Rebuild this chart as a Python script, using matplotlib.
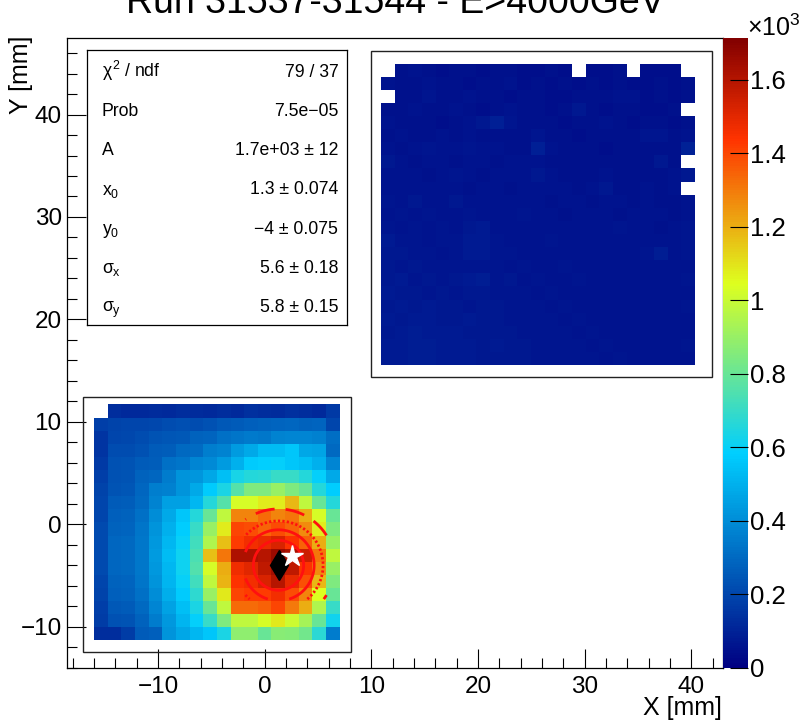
import numpy as np
import matplotlib
matplotlib.use("Agg")
import matplotlib.pyplot as plt
from matplotlib.colors import LinearSegmentedColormap, Normalize
from matplotlib.patches import Rectangle
from matplotlib.ticker import MultipleLocator, FuncFormatter

plt.rcParams['font.family'] = ['Liberation Sans', 'DejaVu Sans']
plt.rcParams['mathtext.fontset'] = 'custom'
plt.rcParams['mathtext.rm'] = 'Liberation Sans'
plt.rcParams['mathtext.it'] = 'Liberation Sans'
plt.rcParams['mathtext.bf'] = 'Liberation Sans:bold'
plt.rcParams['mathtext.sf'] = 'Liberation Sans'

# ---------------- data ----------------
title = "Run 31537-31544 - E>4000GeV"
x_label = "X [mm]"
y_label = "Y [mm]"
nan = np.nan

# small tower: 18 x 18 bins, rows listed top -> bottom
small_tower = [
    [nan, 130, 120, 115, 125, 120, 130, 125, 115, 130, 120, 140, 130, 125, 135, 130, 120, 165],
    [175, 190, 195, 200, 205, 215, 225, 220, 230, 250, 255, 270, 280, 285, 290, 280, 285, 200],
    [150, 200, 205, 215, 240, 245, 250, 280, 285, 320, 330, 345, 340, 370, 380, 375, 365, 310],
    [150, 215, 220, 230, 260, 265, 300, 305, 360, 370, 440, 480, 530, 535, 560, 470, 465, 300],
    [165, 230, 235, 255, 265, 320, 330, 380, 390, 440, 500, 575, 585, 590, 560, 540, 500, 380],
    [180, 230, 240, 280, 290, 350, 420, 425, 470, 540, 630, 660, 665, 700, 700, 660, 590, 480],
    [190, 240, 245, 290, 360, 365, 420, 480, 570, 640, 760, 850, 850, 900, 850, 800, 660, 580],
    [200, 260, 265, 300, 370, 450, 455, 520, 660, 760, 1030, 1030, 1080, 1080, 1180, 980, 800, 660],
    [200, 270, 275, 320, 400, 480, 560, 660, 800, 980, 1280, 1280, 1330, 1280, 1310, 1200, 1030, 800],
    [210, 280, 285, 330, 420, 500, 580, 700, 900, 1080, 1400, 1390, 1340, 1390, 1340, 1270, 1080, 850],
    [210, 290, 295, 340, 430, 520, 600, 720, 950, 1170, 1420, 1460, 1480, 1520, 1440, 1350, 1200, 900],
    [210, 290, 300, 340, 440, 530, 610, 740, 1170, 1310, 1620, 1620, 1600, 1660, 1620, 1550, 1310, 980],
    [210, 290, 295, 340, 430, 520, 610, 750, 1030, 1200, 1470, 1500, 1580, 1640, 1580, 1440, 1270, 900],
    [200, 280, 285, 330, 420, 510, 600, 720, 980, 1190, 1440, 1460, 1520, 1600, 1490, 1380, 1180, 850],
    [190, 270, 275, 320, 400, 490, 570, 680, 900, 1090, 1400, 1420, 1420, 1460, 1390, 1280, 1040, 800],
    [180, 250, 255, 300, 380, 460, 540, 640, 800, 980, 1330, 1330, 1350, 1400, 1300, 1200, 950, 700],
    [170, 230, 235, 280, 350, 430, 510, 590, 700, 850, 980, 980, 1030, 1090, 1010, 930, 800, 620],
    [130, 130, 170, 260, 270, 420, 470, 520, 560, 640, 880, 880, 800, 870, 860, 820, 670, 350],
]

# large tower: 23 x 23 bins, rows listed top -> bottom
large_tower = [
    [nan, 50, 55, 48, 45, 50, 48, 45, 52, 48, 46, 44, 48, 45, nan, 46, 44, 48, nan, 45, 42, 46, nan],
    [55, 52, 50, 55, 48, 52, 46, 50, 48, 56, 46, 48, 44, 50, 44, 48, 46, 50, 44, 46, 48, 44, 50],
    [nan, 48, 50, 62, 52, 48, 58, 50, 48, 46, 52, 48, 46, 44, 48, 50, 52, 58, 60, 46, 48, 44, 48],
    [52, 48, 55, 50, 52, 56, 48, 46, 50, 54, 48, 50, 46, 48, 68, 48, 46, 50, 48, 44, 46, 48, nan],
    [55, 50, 52, 48, 46, 50, 54, 68, 90, 62, 50, 52, 48, 46, 50, 52, 56, 48, 46, 50, 48, 46, 52],
    [52, 55, 50, 52, 56, 50, 55, 52, 50, 48, 52, 66, 52, 50, 46, 48, 50, 52, 48, 62, 66, 50, 58],
    [60, 52, 56, 64, 54, 56, 62, 56, 58, 52, 50, 92, 56, 52, 48, 50, 46, 48, 52, 50, 52, 48, 98],
    [72, 56, 52, 58, 60, 52, 56, 58, 52, 56, 60, 56, 52, 50, 52, 48, 50, 52, 48, 50, 68, 52, nan],
    [58, 56, 60, 52, 56, 62, 58, 52, 56, 60, 56, 72, 58, 52, 50, 52, 58, 50, 52, 48, 50, 60, 68],
    [60, 58, 56, 60, 58, 60, 52, 56, 58, 52, 56, 58, 60, 56, 52, 56, 68, 50, 52, 56, 52, 58, nan],
    [62, 58, 70, 58, 56, 68, 60, 58, 56, 60, 58, 56, 52, 60, 56, 52, 56, 60, 52, 56, 50, 52, 58],
    [60, 64, 58, 62, 60, 58, 64, 60, 58, 56, 62, 58, 56, 52, 58, 60, 56, 52, 58, 54, 56, 52, 60],
    [66, 60, 62, 58, 64, 60, 70, 74, 60, 58, 56, 60, 58, 56, 54, 58, 56, 62, 54, 56, 52, 56, 62],
    [76, 62, 66, 60, 62, 64, 78, 80, 62, 60, 58, 56, 62, 58, 56, 54, 60, 56, 58, 60, 56, 58, 64],
    [68, 72, 64, 66, 60, 62, 74, 76, 64, 62, 60, 58, 60, 56, 58, 56, 58, 60, 56, 62, 84, 56, 62],
    [72, 66, 68, 64, 66, 62, 64, 66, 62, 60, 62, 60, 58, 62, 56, 58, 60, 56, 58, 56, 58, 56, 60],
    [70, 74, 66, 70, 64, 68, 80, 82, 66, 70, 60, 62, 60, 58, 62, 58, 56, 60, 58, 60, 56, 58, 62],
    [74, 68, 72, 66, 70, 66, 72, 70, 64, 62, 64, 60, 62, 60, 58, 60, 58, 56, 60, 58, 60, 56, 58],
    [70, 76, 70, 74, 68, 72, 66, 70, 68, 64, 62, 66, 60, 62, 60, 58, 60, 58, 56, 60, 58, 60, 62],
    [78, 72, 80, 76, 72, 70, 74, 68, 70, 66, 64, 62, 64, 60, 62, 60, 58, 60, 58, 56, 60, 58, 60],
    [72, 80, 84, 78, 76, 74, 72, 70, 68, 70, 66, 64, 62, 64, 60, 62, 60, 58, 60, 58, 56, 60, 58],
    [80, 76, 82, 86, 74, 78, 76, 72, 74, 70, 68, 66, 64, 62, 64, 60, 62, 60, 58, 60, 58, 56, 66],
    [74, 80, 86, 82, 78, 76, 74, 72, 70, 68, 70, 66, 64, 66, 62, 64, 60, 62, 60, 58, 60, 58, 60],
]

stat_names = [r"$\chi^{2}$ / ndf", "Prob", "A", r"x$_{0}$", r"y$_{0}$",
              r"$\sigma_{x}$", r"$\sigma_{y}$"]
stat_values = ["79 / 37", "7.5e\u221205", "1.7e+03 \u00b1 12", "1.3 \u00b1 0.074",
               "\u22124 \u00b1 0.075", "5.6 \u00b1 0.18", "5.8 \u00b1 0.15"]

fit_A, fit_x0, fit_y0, fit_sx, fit_sy = 1700.0, 1.3, -4.0, 5.6, 5.8
contour_levels = [1085, 1287, 1423, 1556]
fit_window_x = [-1.8, 5.8]
fit_window_y = [-7.3, 1.6]
star_x, star_y = [2.56], [-3.1]
cbar_ticks = [0, 200, 400, 600, 800, 1000, 1200, 1400, 1600]
z_max = 1714

# geometry (mm)
bin_mm = 1.28
small_origin = (-16.0, -11.34)
large_origin = (10.9, 15.54)
small_frame = (-17.05, -12.5, 25.1, 24.95)
large_frame = (10.0, 14.35, 31.9, 31.9)

# ---------------- colormap (ROOT "pretty" palette) ----------------
stops = [0.0, 0.34, 0.61, 0.84, 1.0]
cols = [(0.0, 0.0, 0.51), (0.0, 0.81, 1.0), (0.87, 1.0, 0.12), (1.0, 0.2, 0.0), (0.51, 0.0, 0.0)]
cmap = LinearSegmentedColormap.from_list("rootpal", list(zip(stops, cols)), N=256)
norm = Normalize(vmin=0, vmax=z_max)

TICK_FS = 17.5
W, H = 803, 722
fig = plt.figure(figsize=(W / 100, H / 100), dpi=100)
fig.patch.set_facecolor("white")

ax_l, ax_r, ax_t, ax_b = 67.3, 723.3, 37.7, 667.7
ax = fig.add_axes([ax_l / W, 1 - ax_b / H, (ax_r - ax_l) / W, (ax_b - ax_t) / H])

def draw_tower(vals, origin):
    arr = np.flipud(np.array(vals, dtype=float))
    ny, nx = arr.shape
    xe = origin[0] + bin_mm * np.arange(nx + 1)
    ye = origin[1] + bin_mm * np.arange(ny + 1)
    return ax.pcolormesh(xe, ye, np.ma.masked_invalid(arr), cmap=cmap, norm=norm,
                         shading="flat", zorder=1, edgecolors="none")

mesh = draw_tower(small_tower, small_origin)
draw_tower(large_tower, large_origin)

for fx, fy, fw, fh in (small_frame, large_frame):
    ax.add_patch(Rectangle((fx, fy), fw, fh, fill=False, ec="#222222", lw=1.0, zorder=2))

# fit function contours (restricted to fit window)
gx = np.linspace(fit_window_x[0], fit_window_x[1], 200)
gy = np.linspace(fit_window_y[0], fit_window_y[1], 200)
GX, GY = np.meshgrid(gx, gy)
GZ = fit_A * np.exp(-0.5 * (((GX - fit_x0) / fit_sx) ** 2 + ((GY - fit_y0) / fit_sy) ** 2))
ax.contour(GX, GY, GZ, levels=contour_levels, colors="#ff1010", linewidths=2.0,
           linestyles=[(0, (7, 4)), (0, (0.8, 0.8)), "solid", "solid"], zorder=3)

ax.plot([fit_x0], [fit_y0], marker="d", ms=15, color="black", mec="black", ls="none", zorder=4)
ax.plot(star_x, star_y, marker="*", ms=16, color="white", mec="white", ls="none", zorder=5)

ax.set_xlim(-18.5, 43)
ax.set_ylim(-14, 47.5)
ax.xaxis.set_major_locator(MultipleLocator(10))
ax.xaxis.set_minor_locator(MultipleLocator(2))
ax.yaxis.set_major_locator(MultipleLocator(10))
ax.yaxis.set_minor_locator(MultipleLocator(2))
ax.xaxis.set_major_formatter(FuncFormatter(lambda v, p: f"{v:g}".replace("-", "\u2212")))
ax.yaxis.set_major_formatter(FuncFormatter(lambda v, p: f"{v:g}".replace("-", "\u2212")))
ax.tick_params(which="major", direction="in", length=14, width=0.8, labelsize=TICK_FS,
               top=False, right=False)
ax.tick_params(which="minor", direction="in", length=7, width=0.8, top=False, right=False)
ax.tick_params(axis="x", pad=6)
ax.tick_params(axis="y", pad=4)
for s in ax.spines.values():
    s.set_linewidth(0.9)

# colorbar
cax = fig.add_axes([ax_r / W, 1 - ax_b / H, 24.4 / W, (ax_b - ax_t) / H])
cb = fig.colorbar(mesh, cax=cax)
cb.outline.set_visible(False)
cb.set_ticks(cbar_ticks)
cax.yaxis.set_major_formatter(FuncFormatter(lambda v, p: f"{v / 1000:g}"))
cax.minorticks_off()
cax.tick_params(axis="y", direction="in", length=13, width=0.8, labelsize=18.5, pad=2,
                right=True, left=False)
fig.text(747 / W, 1 - 36 / H, "\u00d710$^{3}$", ha="left", va="baseline", fontsize=18)

# stats box
bx_l, bx_r, bx_t, bx_b = 87.3, 346.7, 50.0, 325.0
sax = fig.add_axes([bx_l / W, 1 - bx_b / H, (bx_r - bx_l) / W, (bx_b - bx_t) / H])
sax.set_xlim(0, 1)
sax.set_ylim(0, 1)
sax.set_xticks([])
sax.set_yticks([])
sax.set_facecolor("white")
for s in sax.spines.values():
    s.set_linewidth(0.9)
bh = bx_b - bx_t
row_h = bh / len(stat_names)
for i, (n, v) in enumerate(zip(stat_names, stat_values)):
    yb = 1 - (row_h * (i + 0.5) + 7) / bh
    sax.text(14.4 / (bx_r - bx_l), yb, n, ha="left", va="baseline", fontsize=12.7)
    sax.text(1 - 8.4 / (bx_r - bx_l), yb, v, ha="right", va="baseline", fontsize=12.7)

# titles
fig.text(395.5 / W, 1 - 13 / H, title, ha="center", va="baseline", fontsize=27)
fig.text(721.7 / W, 1 - 715 / H, x_label, ha="right", va="baseline", fontsize=18)
fig.text(21 / W, 1 - 36 / H, y_label, ha="center", va="top", rotation=90, fontsize=18)

fig.savefig("out.png", dpi=100)
